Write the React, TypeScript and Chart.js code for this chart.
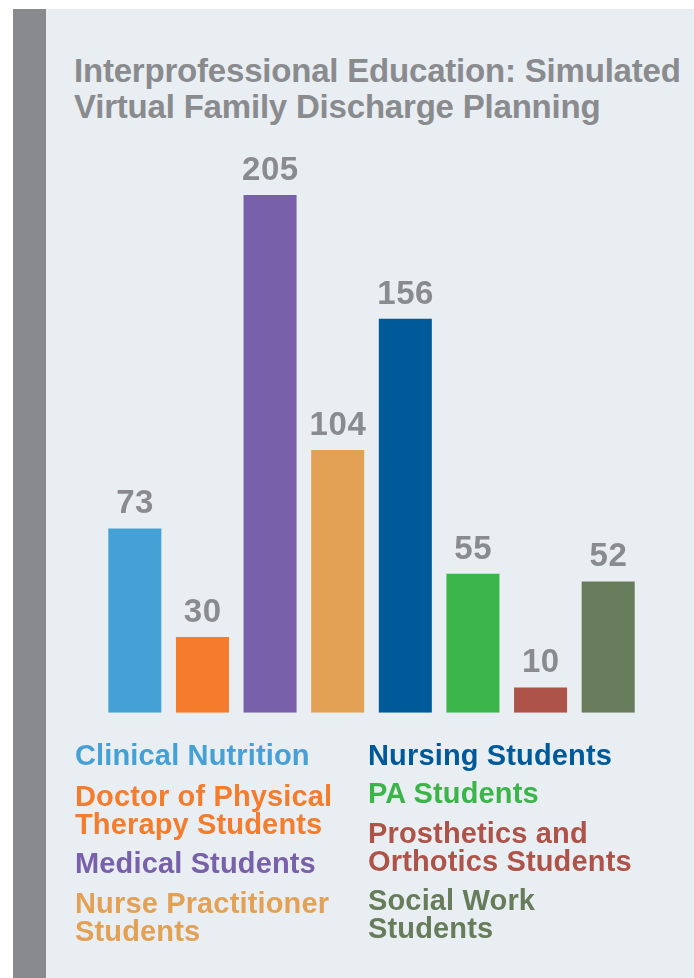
import React, { useEffect, useRef } from "react";
import { Chart, registerables } from "chart.js";

Chart.register(...registerables);

const categories = [
  "Clinical Nutrition",
  "Doctor of Physical Therapy Students",
  "Medical Students",
  "Nurse Practitioner Students",
  "Nursing Students",
  "PA Students",
  "Prosthetics and Orthotics Students",
  "Social Work Students",
];
const values = [73, 30, 205, 104, 156, 55, 10, 52];
const colors = [
  "#45a0d5",
  "#f47c2c",
  "#7860aa",
  "#e3a155",
  "#005a9a",
  "#3bb54a",
  "#ad5349",
  "#677c5a",
];
const titleLines = [
  "Interprofessional Education: Simulated",
  "Virtual Family Discharge Planning",
];
// legend lines per category (as printed)
const legendLines = [
  ["Clinical Nutrition"],
  ["Doctor of Physical", "Therapy Students"],
  ["Medical Students"],
  ["Nurse Practitioner", "Students"],
  ["Nursing Students"],
  ["PA Students"],
  ["Prosthetics and", "Orthotics Students"],
  ["Social Work", "Students"],
];

const FONT = '"Liberation Sans", Arial, Helvetica, sans-serif';
const GRAY = "#8a8b8e";

const legendPos = [
  { left: 75, top: 741 },
  { left: 75, top: 782 },
  { left: 75, top: 849 },
  { left: 75, top: 889 },
  { left: 368, top: 741 },
  { left: 368, top: 779 },
  { left: 368, top: 819 },
  { left: 368, top: 886 },
];

const valueLabels = {
  id: "valueLabels",
  afterDatasetsDraw(chart: any) {
    const ctx = chart.ctx;
    const meta = chart.getDatasetMeta(0);
    ctx.save();
    ctx.font = `bold 33px ${FONT}`;
    try {
      (ctx as any).letterSpacing = "0.6px";
    } catch (e) {}
    ctx.fillStyle = GRAY;
    ctx.textAlign = "center";
    ctx.textBaseline = "alphabetic";
    meta.data.forEach((bar: any, i: number) => {
      ctx.fillText(String(values[i]), bar.x + 0.3, bar.y - 15);
    });
    ctx.restore();
  },
};

export default function App() {
  const ref = useRef<HTMLCanvasElement>(null);
  useEffect(() => {
    if (!ref.current) return;
    const chart = new Chart(ref.current, {
      type: "bar",
      data: {
        labels: categories,
        datasets: [
          {
            data: values,
            backgroundColor: colors,
            borderWidth: 0,
            barPercentage: 0.784,
            categoryPercentage: 1,
          },
        ],
      },
      options: {
        animation: false,
        responsive: false,
        maintainAspectRatio: false,
        layout: {
          padding: { left: 101, right: 52, top: 157.2, bottom: 265.3 },
        },
        plugins: {
          legend: { display: false },
          tooltip: { enabled: false },
          title: { display: false },
        },
        scales: {
          x: { display: false },
          y: { display: false, min: 0, max: 220 },
        },
      },
      plugins: [valueLabels],
    });
    return () => chart.destroy();
  }, []);

  return (
    <div
      style={{
        position: "absolute",
        left: 0,
        top: 0,
        width: 694,
        height: 978,
        background: "#ffffff",
        overflow: "hidden",
        fontFamily: FONT,
      }}
    >
      <div
        style={{
          position: "absolute",
          left: 13,
          top: 9,
          width: 33,
          height: 969,
          background: "#898a8e",
        }}
      />
      <div
        style={{
          position: "absolute",
          left: 46,
          top: 9,
          width: 648,
          height: 969,
          background: "#e9eef2",
        }}
      />
      <div
        style={{
          position: "absolute",
          left: 74,
          top: 53,
          fontSize: 33,
          lineHeight: "36px",
          fontWeight: "bold",
          color: GRAY,
          letterSpacing: "-0.2px",
          whiteSpace: "nowrap",
        }}
      >
        {titleLines.map((t, i) => (
          <div key={i}>{t}</div>
        ))}
      </div>
      <canvas
        ref={ref}
        width={694}
        height={978}
        style={{ position: "absolute", left: 0, top: 0, width: 694, height: 978 }}
      />
      {legendLines.map((lines, i) => (
        <div
          key={i}
          style={{
            position: "absolute",
            left: legendPos[i].left,
            top: legendPos[i].top,
            fontSize: 29,
            lineHeight: "28px",
            fontWeight: "bold",
            letterSpacing: "0.15px",
            color: colors[i],
            whiteSpace: "nowrap",
          }}
        >
          {lines.map((l, j) => (
            <div key={j}>{l}</div>
          ))}
        </div>
      ))}
    </div>
  );
}
